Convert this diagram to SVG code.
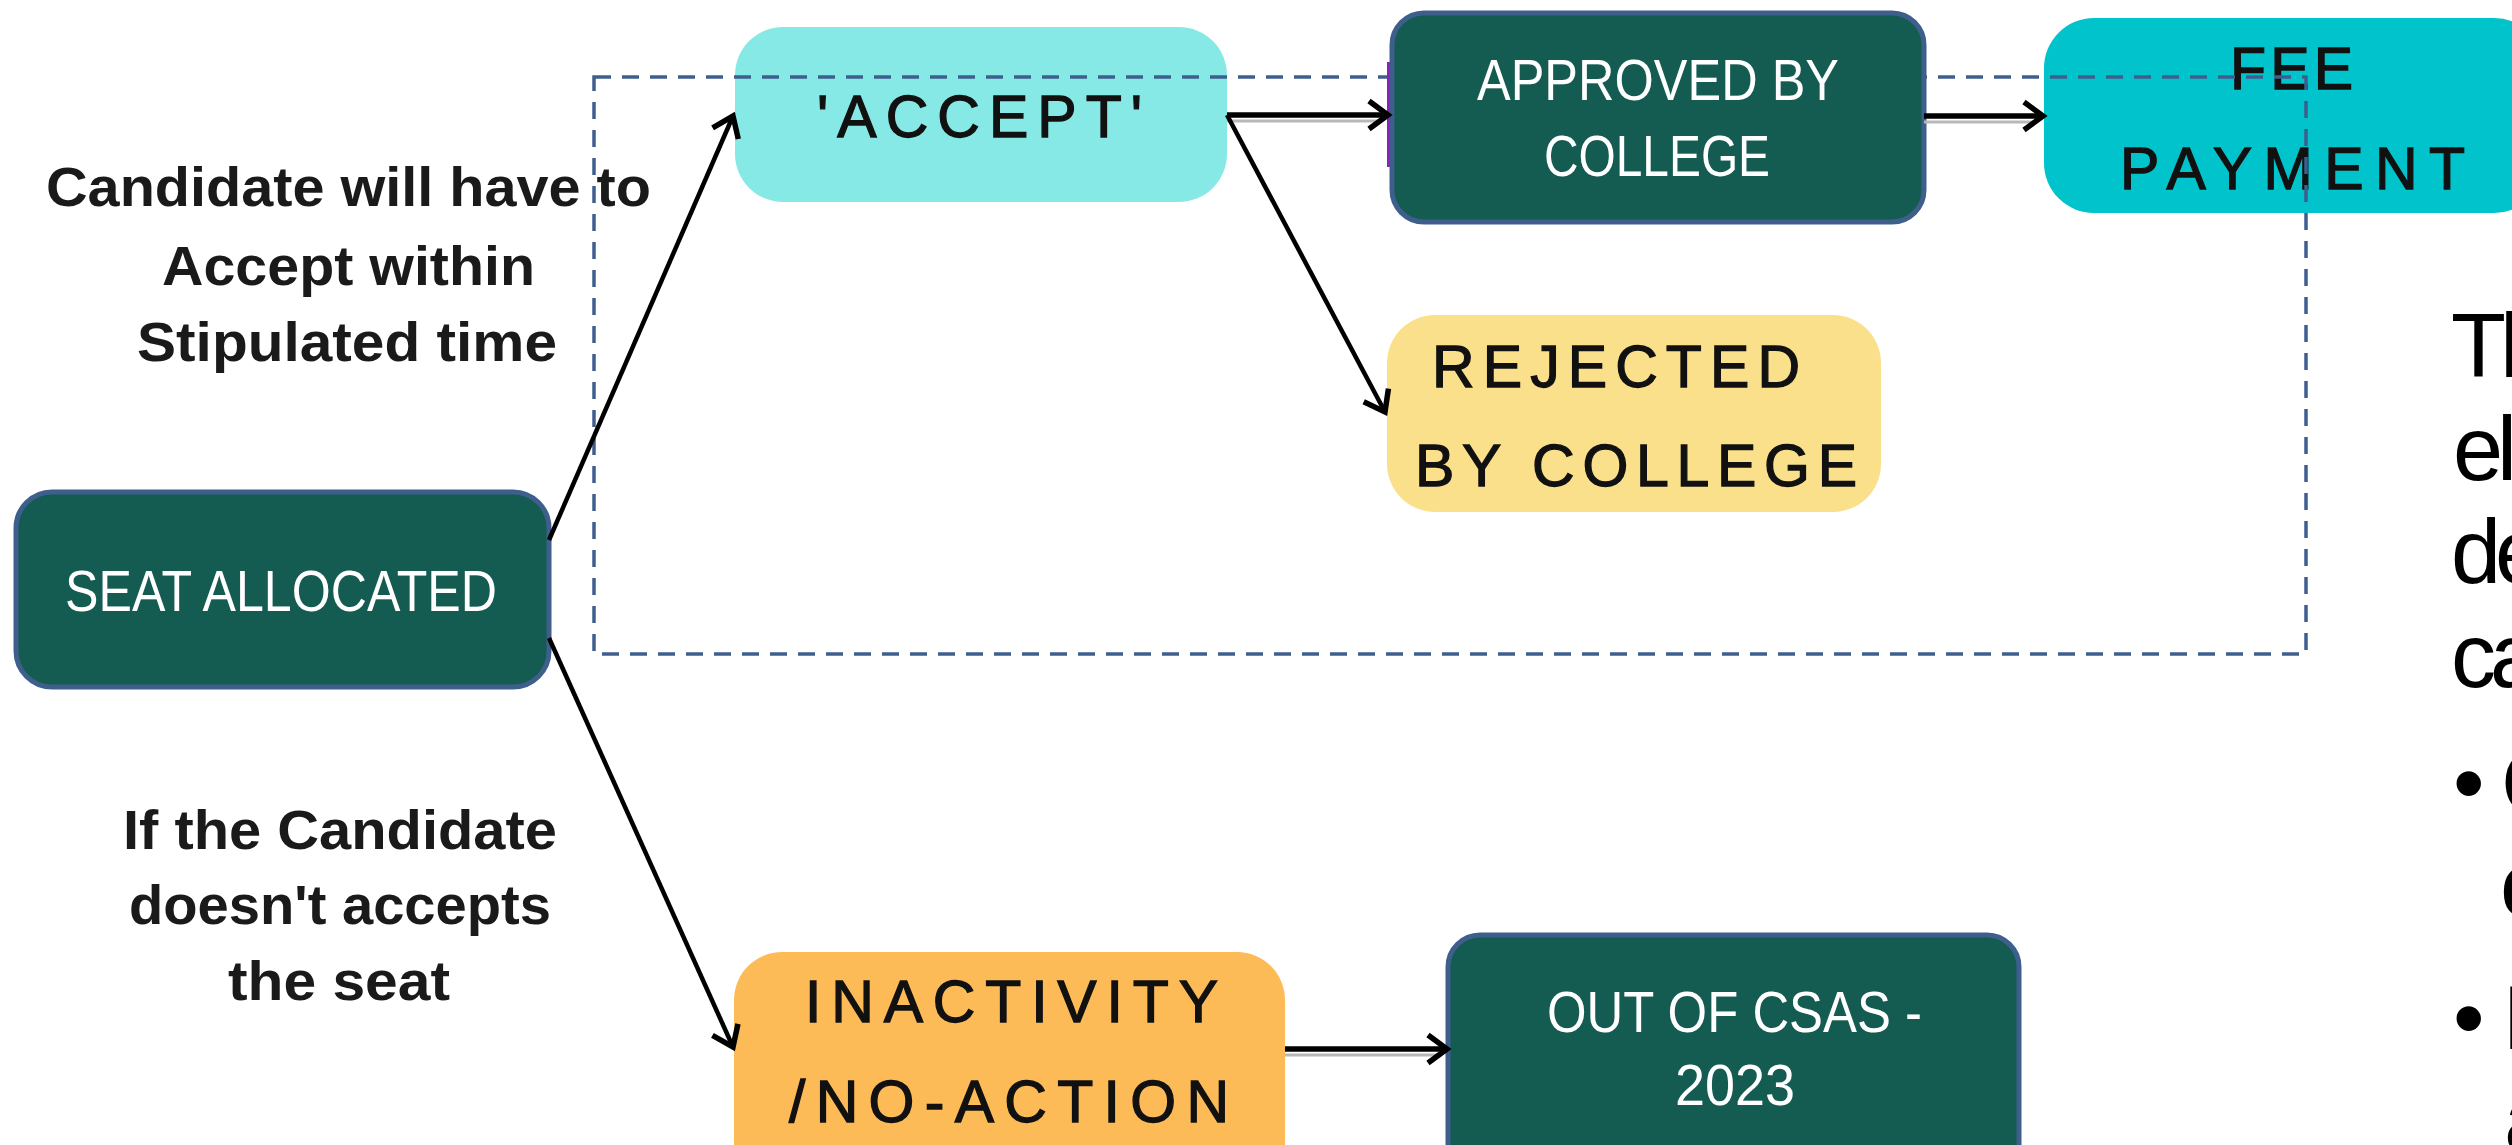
<svg xmlns="http://www.w3.org/2000/svg" width="2512" height="1145" viewBox="0 0 2512 1145">
<defs>
<style>
.dark{fill:#145b51;stroke:#3e5f8c;stroke-width:5}
.wt{font-family:"Liberation Sans",Arial,sans-serif;fill:#ffffff;font-size:58px}
.bt{font-family:"Liberation Sans",Arial,sans-serif;fill:#111111;stroke:#111111;stroke-width:1.3px;font-size:59px}
.lbl{font-family:"Liberation Sans",Arial,sans-serif;font-weight:bold;font-size:55px;fill:#1a1a1a}
.side{font-family:"Liberation Sans",Arial,sans-serif;font-size:90px;fill:#000000;letter-spacing:-6px}
.conn{stroke:#000000;fill:none}
.shadow{stroke:#b8b8b8;stroke-width:3;fill:none}
</style>
<marker id="arr" markerUnits="userSpaceOnUse" markerWidth="32" markerHeight="36" viewBox="0 0 32 36" refX="24" refY="18" orient="auto">
<path d="M5,4 L24,18 L5,32" fill="none" stroke="#000" stroke-width="5.5"/>
</marker>
</defs>
<rect width="2512" height="1145" fill="#ffffff"/>

<g id="node-accept">
<rect x="735" y="27" width="492" height="175" rx="48" fill="#87e9e6"/>
<text class="bt" x="817" y="137" textLength="325" lengthAdjust="spacing">'ACCEPT'</text>
</g>

<g id="node-fee">
<rect x="2044" y="18" width="500" height="195" rx="50" fill="#00c3cb"/>
<text class="bt" x="2230" y="89" textLength="123" lengthAdjust="spacing">FEE</text>
<text class="bt" x="2120" y="189" textLength="345" lengthAdjust="spacing">PAYMENT</text>
</g>

<g id="boundary">
<rect x="594" y="77" width="1712" height="577" fill="none" stroke="#3e5f8e" stroke-width="3.5" stroke-dasharray="17 11"/>
</g>

<g id="node-approved">
<rect x="1387" y="62" width="7" height="105" fill="#8a22b8"/>
<rect class="dark" x="1392" y="13" width="532" height="209" rx="32"/>
<text class="wt" x="1477" y="100" textLength="362" lengthAdjust="spacingAndGlyphs">APPROVED BY</text>
<text class="wt" x="1544" y="176" textLength="226" lengthAdjust="spacingAndGlyphs">COLLEGE</text>
</g>

<g id="node-seat">
<rect class="dark" x="16" y="492" width="533" height="195" rx="36"/>
<text class="wt" x="65" y="611" textLength="432" lengthAdjust="spacingAndGlyphs">SEAT ALLOCATED</text>
</g>

<g id="node-rejected">
<rect x="1387" y="315" width="494" height="197" rx="48" fill="#fbe08c"/>
<text class="bt" x="1432" y="387" textLength="368" lengthAdjust="spacing">REJECTED</text>
<text class="bt" x="1415" y="486" textLength="442" lengthAdjust="spacing">BY COLLEGE</text>
</g>

<g id="node-inactivity">
<rect x="734" y="952" width="551" height="240" rx="48" fill="#fdbb57"/>
<text class="bt" x="805" y="1022" textLength="413" lengthAdjust="spacing">INACTIVITY</text>
<text class="bt" x="789" y="1122" textLength="440" lengthAdjust="spacing">/NO-ACTION</text>
</g>

<g id="node-out">
<rect class="dark" x="1448" y="935" width="571" height="260" rx="32"/>
<text class="wt" x="1547" y="1032" textLength="375" lengthAdjust="spacingAndGlyphs">OUT OF CSAS -</text>
<text class="wt" x="1675" y="1105" textLength="120" lengthAdjust="spacingAndGlyphs">2023</text>
</g>

<g id="labels">
<text class="lbl" x="46" y="206" textLength="605" lengthAdjust="spacingAndGlyphs">Candidate will have to</text>
<text class="lbl" x="162" y="285" textLength="373" lengthAdjust="spacingAndGlyphs">Accept within</text>
<text class="lbl" x="137" y="361" textLength="420" lengthAdjust="spacingAndGlyphs">Stipulated time</text>
<text class="lbl" x="123" y="849" textLength="434" lengthAdjust="spacingAndGlyphs">If the Candidate</text>
<text class="lbl" x="129" y="924" textLength="422" lengthAdjust="spacingAndGlyphs">doesn't accepts</text>
<text class="lbl" x="228" y="1000" textLength="222" lengthAdjust="spacingAndGlyphs">the seat</text>
</g>

<g id="side-text">
<text class="side" x="2451" y="377">Th</text>
<text class="side" x="2453" y="480">el</text>
<text class="side" x="2451" y="583">de</text>
<text class="side" x="2451" y="687">ca</text>
<text class="side" y="814"><tspan x="2453">•</tspan><tspan x="2501">C</tspan></text>
<text class="side" x="2500" y="916">c</text>
<text class="side" y="1049"><tspan x="2453">•</tspan><tspan x="2502">I</tspan></text>
<text class="side" x="2504" y="1151">a</text>
</g>

<g id="connectors">
<line class="shadow" x1="1227" y1="121" x2="1378" y2="121"/>
<line class="shadow" x1="1924" y1="122" x2="2034" y2="122"/>
<line class="shadow" x1="1285" y1="1055" x2="1438" y2="1055"/>
<line class="conn" x1="549" y1="540" x2="733" y2="116" stroke-width="4.5" marker-end="url(#arr)"/>
<line class="conn" x1="549" y1="638" x2="733" y2="1047" stroke-width="4.5" marker-end="url(#arr)"/>
<line class="conn" x1="1227" y1="115" x2="1388" y2="115" stroke-width="5.5" marker-end="url(#arr)"/>
<line class="conn" x1="1227" y1="115" x2="1385" y2="412" stroke-width="4.5" marker-end="url(#arr)"/>
<line class="conn" x1="1924" y1="116" x2="2043" y2="116" stroke-width="5.5" marker-end="url(#arr)"/>
<line class="conn" x1="1285" y1="1049" x2="1447" y2="1049" stroke-width="5.5" marker-end="url(#arr)"/>
</g>
</svg>
